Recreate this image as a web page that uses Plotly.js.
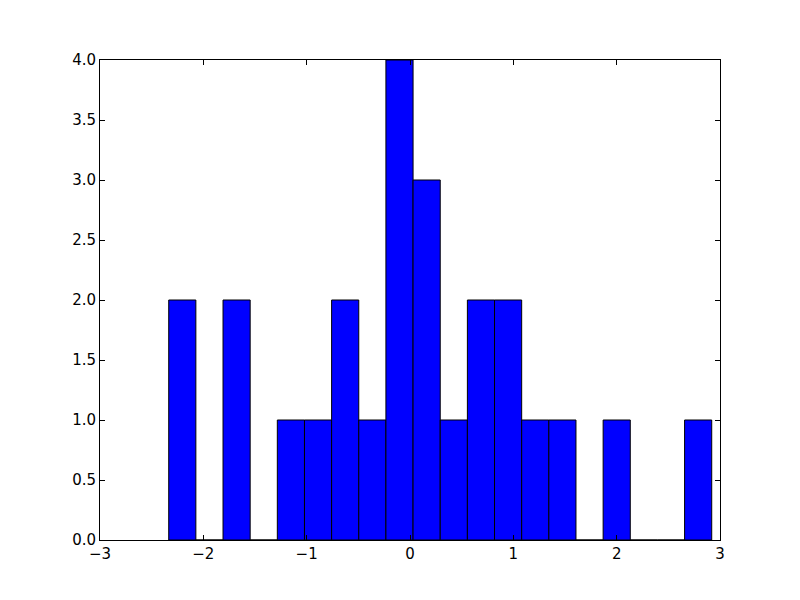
<!DOCTYPE html>
<html>
<head>
<meta charset="utf-8">
<script src="https://cdn.plot.ly/plotly-3.0.1.min.js"></script>
<style>html,body{margin:0;padding:0;background:#fff;}#chart{width:800px;height:600px;}</style>
</head>
<body>
<div id="chart"></div>
<script>
// Histogram data
const binStart = -2.335;
const binEnd = 2.920;
const counts = [2, 0, 2, 0, 1, 1, 2, 1, 4, 3, 1, 2, 2, 1, 1, 0, 1, 0, 0, 1];
const xTickVals = [-3, -2, -1, 0, 1, 2, 3];
const yTickVals = [0, 0.5, 1, 1.5, 2, 2.5, 3, 3.5, 4];

const nBins = counts.length;
const binWidth = (binEnd - binStart) / nBins;
const centers = counts.map((_, i) => binStart + binWidth * (i + 0.5));

const trace = {
  type: 'bar',
  x: centers,
  y: counts,
  width: counts.map(() => binWidth),
  marker: {color: '#0000ff', line: {color: '#000000', width: 1}},
  hoverinfo: 'x+y'
};

const axisCommon = {
  showgrid: false,
  zeroline: false,
  showline: true,
  linecolor: '#000',
  linewidth: 1,
  mirror: 'allticks',
  ticks: 'inside',
  ticklen: 5,
  tickwidth: 1,
  tickcolor: '#000',
  tickfont: {family: 'DejaVu Sans', size: 15, color: '#000'}
};

const layout = {
  width: 800,
  height: 600,
  margin: {l: 100, r: 80, t: 60, b: 60},
  paper_bgcolor: '#fff',
  plot_bgcolor: '#fff',
  showlegend: false,
  bargap: 0,
  xaxis: Object.assign({}, axisCommon, {
    range: [-3, 3],
    tickvals: xTickVals,
    ticktext: xTickVals.map(v => v < 0 ? '\u2212' + Math.abs(v) : String(v))
  }),
  yaxis: Object.assign({}, axisCommon, {
    range: [0, 4],
    tickvals: yTickVals,
    ticktext: yTickVals.map(v => v.toFixed(1))
  })
};

Plotly.newPlot('chart', [trace], layout, {displayModeBar: false, staticPlot: true});
</script>
</body>
</html>
